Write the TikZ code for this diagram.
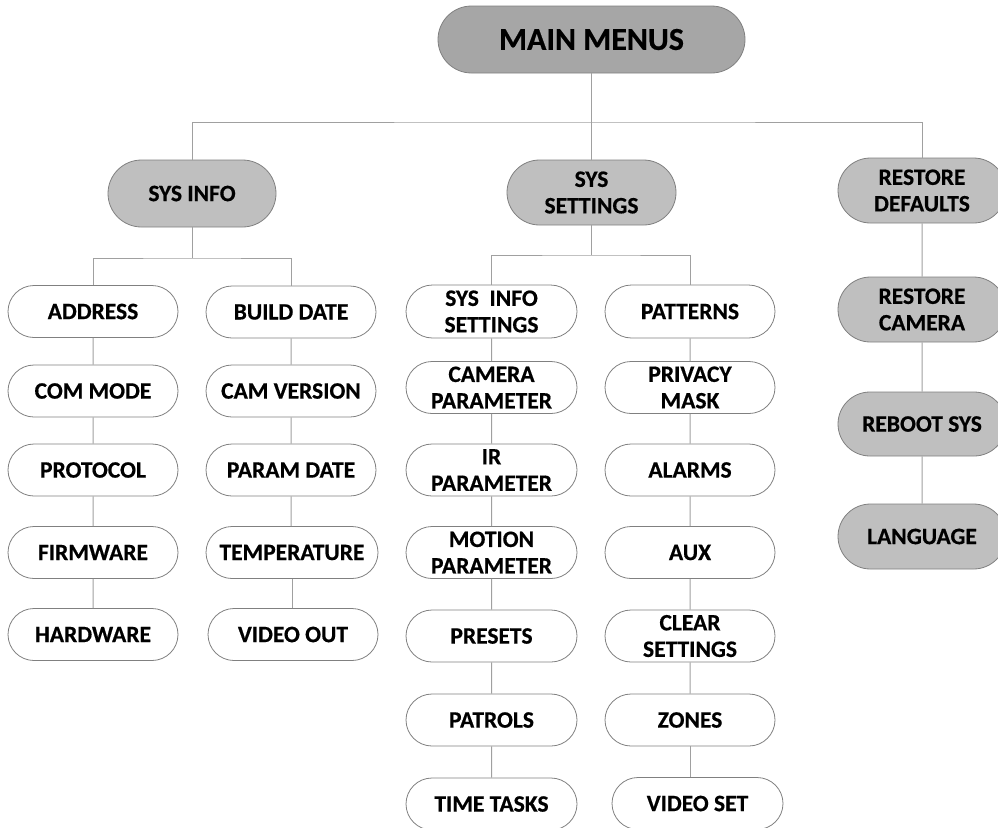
\documentclass[tikz,border=0pt]{standalone}
\usepackage{fontspec}
\setmainfont{Carlito}[BoldFeatures={FakeBold=0.5}]
\usetikzlibrary{shapes.misc}
\definecolor{maingray}{HTML}{A6A6A6}
\definecolor{subgray}{HTML}{BFBFBF}
\definecolor{edgegray}{HTML}{808080}
\definecolor{linegray}{HTML}{A0A0A0}
\tikzset{
  pill/.style={rounded rectangle, draw=edgegray, line width=0.8pt, inner sep=0pt,
    align=center, font=\fontsize{23.5}{26.5}\selectfont\bfseries, text=black},
  leaf/.style={pill, fill=white, minimum width=170pt, minimum height=52pt},
  graynode/.style={pill, fill=subgray, minimum width=168pt, minimum height=65pt},
  mainnode/.style={pill, fill=maingray, minimum width=307pt, minimum height=67pt,
    font=\fontsize{32}{36}\selectfont\bfseries},
  link/.style={draw=linegray, line width=1pt}
}
\begin{document}
\begin{tikzpicture}[x=1pt,y=-1pt]
\useasboundingbox (0,0) rectangle (998,827);
\clip (0,0) rectangle (998,827);
% top
\node[mainnode] (main) at (591.5,39.5) {MAIN MENUS};
\node[graynode, minimum height=67pt] (sysinfo) at (192,193.5) {SYS INFO};
\node[graynode, minimum width=169pt] (settings) at (591.5,192.5) {SYS\\SETTINGS};
\node[graynode] (restoredef) at (922,190.5) {RESTORE\\DEFAULTS};
\node[graynode] (restorecam) at (922,309.5) {RESTORE\\CAMERA};
\node[graynode, minimum height=64pt] (reboot) at (922,424) {REBOOT SYS};
\node[graynode] (language) at (922,536.5) {LANGUAGE};
% SYS INFO leaves
\node[leaf] (address) at (93,311.5) {ADDRESS};
\node[leaf] (commode) at (93,391) {COM MODE};
\node[leaf] (protocol) at (93,470) {PROTOCOL};
\node[leaf] (firmware) at (93,552.5) {FIRMWARE};
\node[leaf] (hardware) at (93,634.5) {HARDWARE};
\node[leaf] (builddate) at (291,312) {BUILD DATE};
\node[leaf] (camversion) at (291,391) {CAM VERSION};
\node[leaf] (paramdate) at (291,470) {PARAM DATE};
\node[leaf, minimum width=172pt] (temperature) at (292,552.5) {TEMPERATURE};
\node[leaf] (videoout) at (293,634.5) {VIDEO OUT};
% SYS SETTINGS leaves
\node[leaf, minimum width=171pt, minimum height=53pt] (sysinfoset) at (491.5,311.5) {SYS\ \ INFO\\SETTINGS};
\node[leaf, minimum width=171pt] (camera) at (491.5,387.5) {CAMERA\\PARAMETER};
\node[leaf, minimum width=171pt] (irpar) at (491.5,470) {IR\\PARAMETER};
\node[leaf, minimum width=171pt] (motion) at (491.5,552.5) {MOTION\\PARAMETER};
\node[leaf, minimum width=171pt] (presets) at (491.5,636) {PRESETS};
\node[leaf, minimum width=171pt] (patrols) at (491.5,720) {PATROLS};
\node[leaf, minimum width=171pt] (timetasks) at (491.5,804) {TIME TASKS};
\node[leaf, minimum height=53pt] (patterns) at (690,311.5) {PATTERNS};
\node[leaf] (privacy) at (690,387.5) {PRIVACY\\MASK};
\node[leaf] (alarms) at (690,470) {ALARMS};
\node[leaf] (aux) at (690,552.5) {AUX};
\node[leaf] (clear) at (690,636) {CLEAR\\SETTINGS};
\node[leaf] (zones) at (690,720) {ZONES};
\node[leaf, minimum width=171pt] (videoset) at (697.5,803.5) {VIDEO SET};
% bus coordinates
\coordinate (bus0) at (591.5,122);
\coordinate (bus1) at (192,258);
\coordinate (bus2) at (591.5,255);
% connectors
\draw[link] (main.south) -- (bus0);
\draw[link] (bus0) -- (settings.north);
\draw[link] (sysinfo.north) |- (bus0) -| (restoredef.north);
\draw[link] (sysinfo.south) -- (bus1);
\draw[link] (address.north) |- (bus1) -| (builddate.north);
\draw[link] (settings.south) -- (bus2);
\draw[link] (sysinfoset.north) |- (bus2) -| (patterns.north);
\draw[link] (restoredef) -- (restorecam);
\draw[link] (restorecam) -- (reboot);
\draw[link] (reboot) -- (language);
\draw[link] (address) -- (commode);
\draw[link] (commode) -- (protocol);
\draw[link] (protocol) -- (firmware);
\draw[link] (firmware) -- (hardware);
\draw[link] (builddate) -- (camversion);
\draw[link] (camversion) -- (paramdate);
\draw[link] (paramdate) -- (paramdate |- temperature.north);
\draw[link] (temperature.south) -- (temperature.south |- videoout.north);
\draw[link] (sysinfoset) -- (camera);
\draw[link] (camera) -- (irpar);
\draw[link] (irpar) -- (motion);
\draw[link] (motion) -- (presets);
\draw[link] (presets) -- (patrols);
\draw[link] (patrols) -- (timetasks);
\draw[link] (patterns) -- (privacy);
\draw[link] (privacy) -- (alarms);
\draw[link] (alarms) -- (aux);
\draw[link] (aux) -- (clear);
\draw[link] (clear) -- (zones);
\draw[link] (zones.south) -- (zones.south |- videoset.north);
\end{tikzpicture}
\end{document}
